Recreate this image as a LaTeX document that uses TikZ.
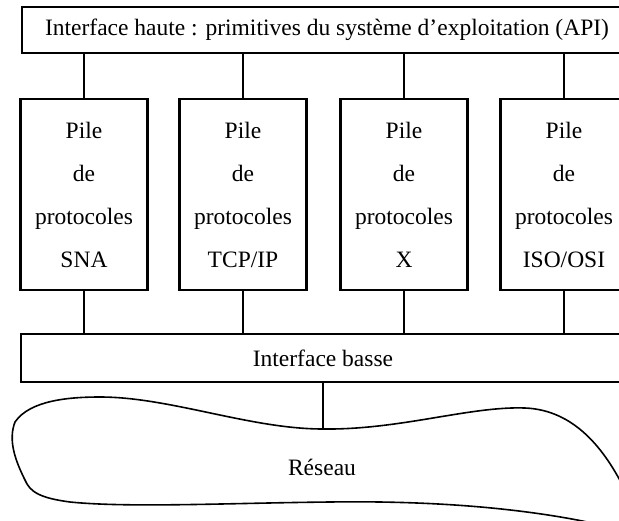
\documentclass[tikz,border=0pt]{standalone}
\usepackage{fontspec}
\setmainfont{Liberation Serif}
\begin{document}
\begin{tikzpicture}[x=1pt,y=-1pt,
  bar/.style={draw,line width=2.2pt,inner sep=0pt,font=\fontsize{23.5}{28}\selectfont},
  stack/.style={draw,line width=2.2pt,minimum width=127pt,minimum height=191pt,inner sep=0pt,align=center,font=\fontsize{23.5}{43}\selectfont},
  link/.style={line width=1.3pt},
  cloud/.style={draw,line width=1.6pt}]
\useasboundingbox (0,0) rectangle (619,520);
\clip (0,0) rectangle (619,520);
\node[bar,minimum width=610pt,minimum height=46pt] (api) at (327,30) {Interface haute : primitives du système d’exploitation (API)};
\node[bar,minimum width=604pt,minimum height=48pt] (low) at (323,358) {Interface basse};
\node[stack] (s1) at (84,194.5) {Pile\\de\\protocoles\\SNA};
\node[stack] (s2) at (243,194.5) {Pile\\de\\protocoles\\TCP/IP};
\node[stack] (s3) at (404,194.5) {Pile\\de\\protocoles\\X};
\node[stack] (s4) at (564,194.5) {Pile\\de\\protocoles\\ISO/OSI};
\foreach \s in {s1,s2,s3,s4}{
  \draw[link] (\s.north) -- (\s.north |- api.south);
  \draw[link] (\s.south) -- (\s.south |- low.north);
}
\coordinate (ctop) at (323,429);
\draw[cloud] (ctop) .. controls (400,430) and (470,406) .. (525,408)
  .. controls (575,410) and (605,450) .. (625,490)
  .. controls (632,510) and (630,532) .. (610,527)
  .. controls (560,515) and (470,500) .. (330,502)
  .. controls (230,503) and (130,508) .. (70,502)
  .. controls (40,498) and (30,492) .. (25,480)
  .. controls (15,460) and (8,440) .. (15,422)
  .. controls (30,400) and (70,397) .. (100,397)
  .. controls (170,397) and (250,429) .. (ctop) -- cycle;
\node (net) at (322,467) {\fontsize{23.5}{28}\selectfont Réseau};
\draw[link] (low.south -| ctop) -- (ctop);
\end{tikzpicture}
\end{document}
